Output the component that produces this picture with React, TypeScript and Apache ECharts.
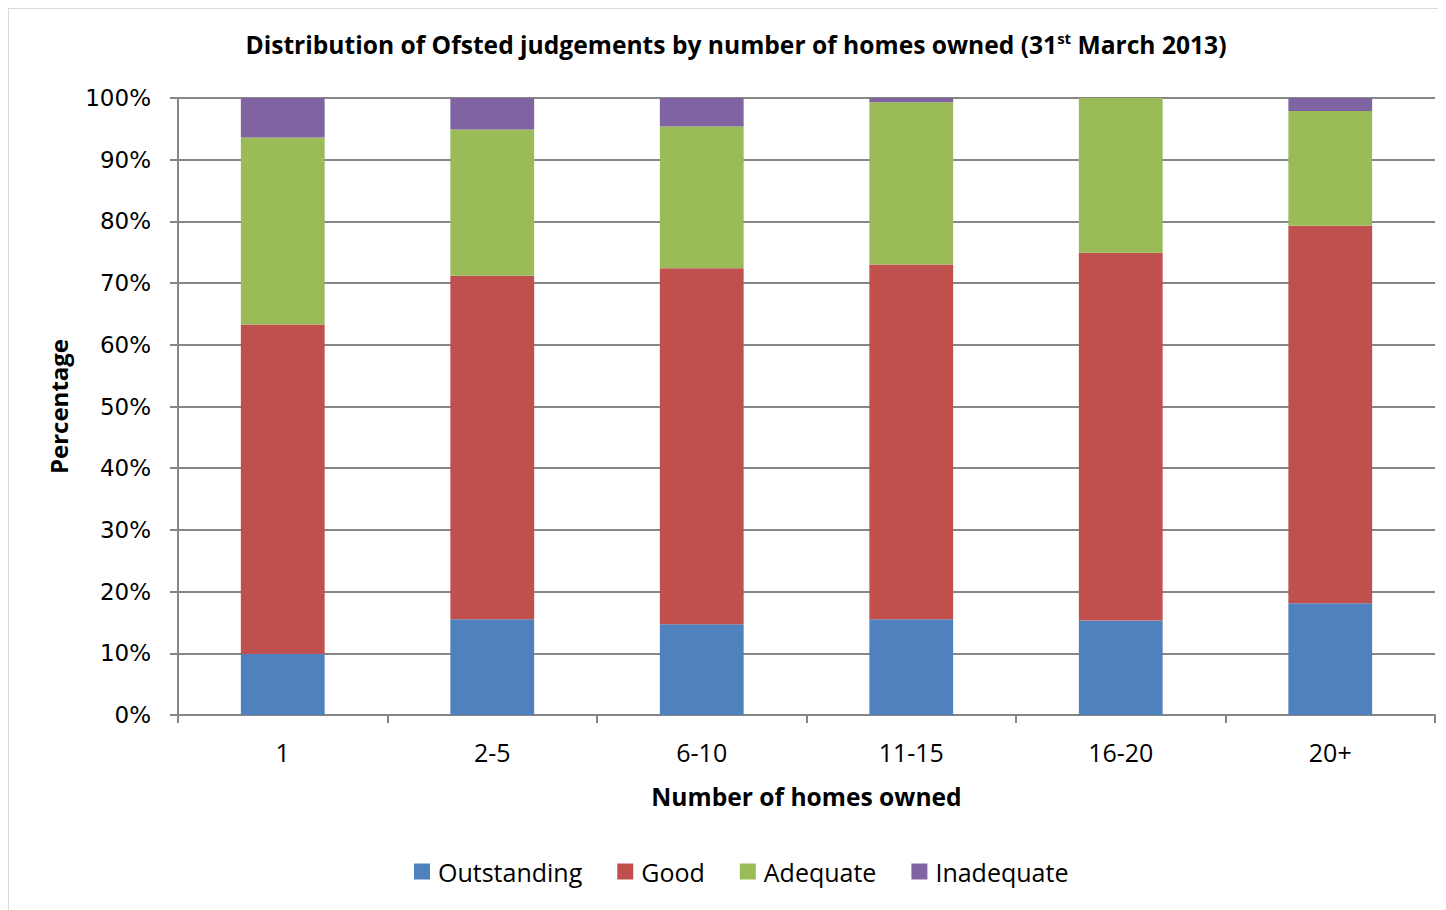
import React, { useEffect, useRef } from "react";
import * as echarts from "echarts";

const categories = ["1", "2-5", "6-10", "11-15", "16-20", "20+"];
const outstanding = [9.9, 15.5, 14.7, 15.5, 15.3, 18.1];
const good = [53.4, 55.7, 57.7, 57.5, 59.6, 61.2];
const adequate = [30.3, 23.7, 23.0, 26.3, 25.1, 18.6];
const inadequate = [6.4, 5.1, 4.6, 0.7, 0, 2.1];
const seriesNames = ["Outstanding", "Good", "Adequate", "Inadequate"];
const colors = ["#4F81BD", "#C0504D", "#9BBB59", "#8064A2"];

const CAL = "'Open Sans', 'Noto Sans', sans-serif";

export default function App() {
  const ref = useRef<HTMLDivElement>(null);
  useEffect(() => {
    if (!ref.current) return;
    const chart = echarts.init(ref.current, null, { renderer: "svg" });
    const data = [outstanding, good, adequate, inadequate];
    chart.setOption({
      animation: false,
      backgroundColor: "#ffffff",
      graphic: [
        {
          type: "rect",
          shape: { x: 0, y: 0, width: 1460, height: 930 },
          style: { fill: "none", stroke: "#d9d9d9", lineWidth: 2 },
          silent: true,
        },
        {
          type: "text",
          x: 728,
          y: 36,
          style: {
            text: "{m|Distribution of Ofsted judgements by number of homes owned (31}{s|st}{m| March 2013)}",
            align: "center",
            verticalAlign: "middle",
            rich: {
              m: { fontFamily: CAL, fontSize: 24.6, fontWeight: "bold", fill: "#000", lineHeight: 32 },
              s: { fontFamily: CAL, fontSize: 15, fontWeight: "bold", fill: "#000", lineHeight: 32, padding: [0, 0, 13, 0] },
            },
          },
        },
      ],
      legend: {
        data: seriesNames,
        left: 401,
        top: 846,
        icon: "rect",
        itemWidth: 16,
        itemHeight: 16,
        itemGap: 35,
        textStyle: { fontFamily: CAL, fontSize: 25, color: "#000", padding: [0, 0, 0, 3] },
      },
      grid: { left: 170, top: 90, right: 11, bottom: 195, containLabel: false },
      xAxis: {
        type: "category",
        data: categories,
        boundaryGap: true,
        name: "Number of homes owned",
        nameLocation: "middle",
        nameGap: 69,
        nameTextStyle: { fontFamily: CAL, fontSize: 24.6, fontWeight: "bold", color: "#000", verticalAlign: "top" },
        axisLine: { show: true, lineStyle: { color: "#868686", width: 2 } },
        axisTick: { show: true, length: 8, interval: 0, alignWithLabel: false, lineStyle: { color: "#868686", width: 2 } },
        axisLabel: { fontFamily: CAL, fontSize: 25, color: "#000", margin: 24, interval: 0 },
        splitLine: { show: false },
      },
      yAxis: {
        type: "value",
        min: 0,
        max: 100,
        interval: 10,
        name: "Percentage",
        nameLocation: "middle",
        nameGap: 108,
        nameRotate: 90,
        nameTextStyle: { fontFamily: CAL, fontSize: 24, fontWeight: "bold", color: "#000" },
        axisLine: { show: true, lineStyle: { color: "#868686", width: 2 } },
        axisTick: { show: true, length: 8, inside: false, lineStyle: { color: "#868686", width: 2 } },
        axisLabel: { fontFamily: "'DejaVu Sans', sans-serif", fontSize: 23, color: "#000", margin: 27, formatter: "{value}%" },
        splitLine: { show: true, lineStyle: { color: "#868686", width: 2 } },
      },
      series: seriesNames.map((name, i) => ({
        name,
        type: "bar",
        stack: "total",
        barWidth: "40%",
        data: data[i],
        itemStyle: { color: colors[i] },
        emphasis: { disabled: true },
      })),
    });
    return () => chart.dispose();
  }, []);
  return <div ref={ref} style={{ width: 1438, height: 902 }} />;
}
